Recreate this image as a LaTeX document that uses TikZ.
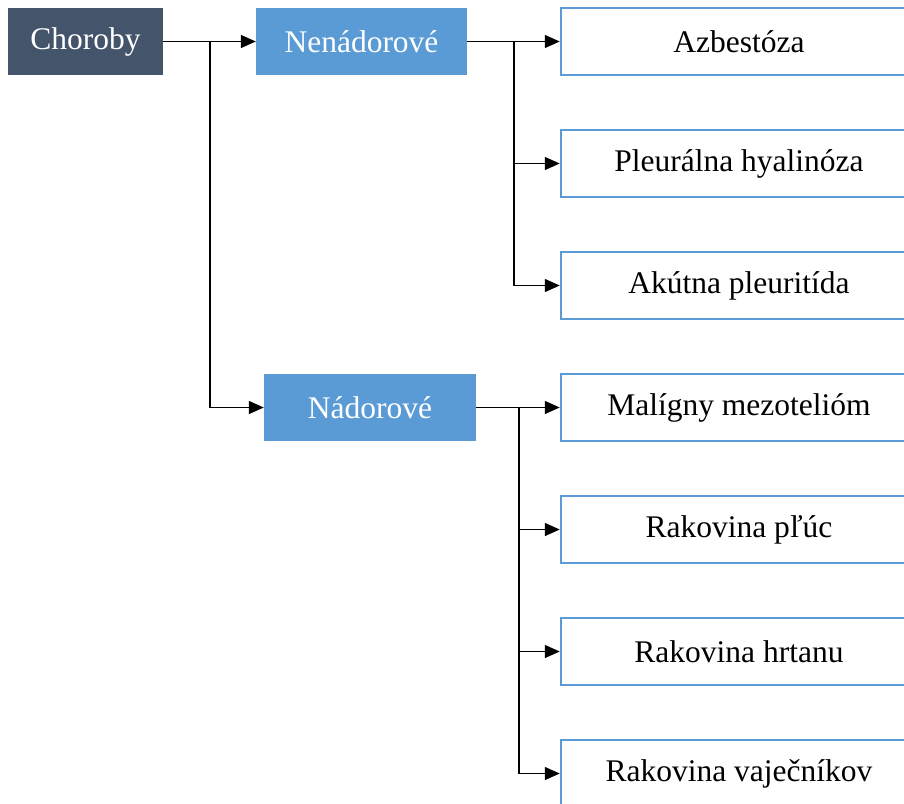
\documentclass[tikz,border=0pt]{standalone}
\usepackage{fontspec}
\setmainfont{Liberation Serif}
\usetikzlibrary{arrows.meta}
\definecolor{darkslate}{HTML}{44546A}
\definecolor{lightblue}{HTML}{5B9BD5}
\begin{document}
\begin{tikzpicture}[x=1pt,y=-1pt,
  base/.style={minimum height=67pt, inner sep=0pt, font=\fontsize{31.5}{38}\selectfont},
  root/.style={base, fill=darkslate, text=white, minimum width=155pt},
  mid/.style={base, fill=lightblue, text=white},
  leaf/.style={base, draw=lightblue, line width=2.5pt, fill=white, minimum width=356pt},
  conn/.style={line width=1.4pt, black},
  arr/.style={conn, -{Triangle[length=15pt,width=13pt]}}]
\useasboundingbox (0,0) rectangle (904,803);
\clip (0,0) rectangle (904,803);
\node[root] (ch) at (85.5,41.5) {Choroby};
\node[mid, minimum width=211pt] (nen) at (361.5,41.5) {Nenádorové};
\node[mid, minimum width=212pt] (nad) at (370,407.5) {Nádorové};
\node[leaf] (a1) at (739,41.5) {Azbestóza};
\node[leaf] (a2) at (739,163.5) {Pleurálna hyalinóza};
\node[leaf] (a3) at (739,285.5) {Akútna pleuritída};
\node[leaf] (b1) at (739,407.5) {Malígny mezotelióm};
\node[leaf] (b2) at (739,529.5) {Rakovina pľúc};
\node[leaf] (b3) at (739,651.5) {Rakovina hrtanu};
\node[leaf] (b4) at (739,773.5) {Rakovina vaječníkov};
\coordinate (t1) at (210,41.5);
\coordinate (t2) at (514,41.5);
\coordinate (t3) at (519,407.5);
\draw[arr] (ch.east) -- (nen.west);
\draw[arr] (t1) |- (nad.west);
\draw[arr] (nen.east) -- (a1.west);
\draw[arr] (t2) |- (a2.west);
\draw[arr] (t2) |- (a3.west);
\draw[arr] (nad.east) -- (b1.west);
\draw[arr] (t3) |- (b2.west);
\draw[arr] (t3) |- (b3.west);
\draw[arr] (t3) |- (b4.west);
\end{tikzpicture}
\end{document}
